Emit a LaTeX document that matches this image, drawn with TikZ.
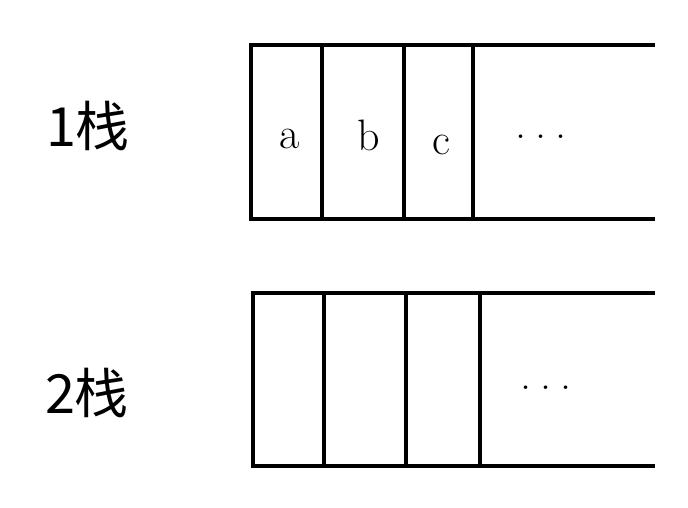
\documentclass[tikz,border=0pt]{standalone}
\usepackage{fontspec}
\newfontfamily\cjk{Noto Sans CJK SC}
\tikzstyle{wall}=[line width=4.5pt]
\tikzstyle{stacklabel}=[font=\cjk\fontsize{54}{60}\selectfont]
\tikzstyle{elem}=[font=\fontsize{44}{50}\selectfont]
\newcommand{\morecells}{.\hspace{0.2em}.\hspace{0.2em}.}

\begin{document}
\begin{tikzpicture}[x=1pt,y=-1pt]
	\useasboundingbox (0,0) rectangle (688,507);
	% stack 1
	\coordinate (s1tl) at (251,45);
	\coordinate (s1bl) at (251,219);
	\coordinate (s1tr) at (655,45);
	\coordinate (s1br) at (655,219);
	\draw[wall] (s1tr) -- (s1tl) -- (s1bl) -- (s1br);
	\draw[wall] (322,45) -- (322,219);
	\draw[wall] (404,45) -- (404,219);
	\draw[wall] (473,45) -- (473,219);
	\node[stacklabel] (label1) at (88,126) {1栈};
	\node[elem] (a) at (290,139) {a};
	\node[elem] (b) at (369,135) {b};
	\node[elem] (c) at (441,145) {c};
	\node[elem] (dots1) at (541,137) {\morecells};

	% stack 2
	\coordinate (s2tl) at (253,293);
	\coordinate (s2bl) at (253,466);
	\coordinate (s2tr) at (655,293);
	\coordinate (s2br) at (655,466);
	\draw[wall] (s2tr) -- (s2tl) -- (s2bl) -- (s2br);
	\draw[wall] (324,293) -- (324,466);
	\draw[wall] (406,293) -- (406,466);
	\draw[wall] (480,293) -- (480,466);
	\node[stacklabel] (label2) at (87,393) {2栈};
	\node[elem] (dots2) at (546,388) {\morecells};
\end{tikzpicture}
\end{document}
